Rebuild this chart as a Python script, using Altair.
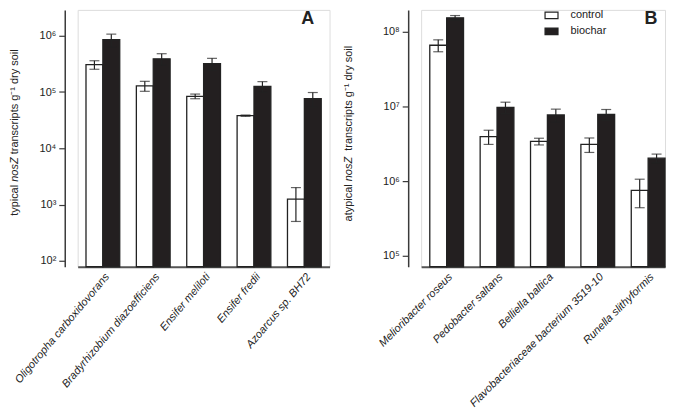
import altair as alt
import pandas as pd

FONT = "Liberation Sans"
BLACK = "#231f20"
AXIS = "#3a3a3a"

# ---- Panel A: typical nosZ ----
species_a = ["Oligotropha carboxidovorans", "Bradyrhizobium diazoefficiens",
             "Ensifer meliloti", "Ensifer fredii", "Azoarcus sp. BH72"]
control_a = [3.07e5, 1.29e5, 8.4e4, 3.8e4, 1.25e3]
control_a_err = [0.53e5, 0.26e5, 0.8e4, 0.1e4, 0.75e3]
biochar_a = [8.5e5, 3.9e5, 3.2e5, 1.26e5, 7.6e4]
biochar_a_err = [2.2e5, 0.9e5, 0.77e5, 0.27e5, 2.2e4]
ticks_a = [1e2, 1e3, 1e4, 1e5, 1e6]
title_a = ["typical", "nosZ", "transcripts g\u207b\u00b9 dry soil"]

# ---- Panel B: atypical nosZ ----
species_b = ["Melioribacter roseus", "Pedobacter saltans", "Belliella baltica",
             "Flavobacteriaceae bacterium 3519-10", "Runella slithyformis"]
control_b = [6.6e7, 3.95e6, 3.4e6, 3.1e6, 7.5e5]
control_b_err = [1.2e7, 0.85e6, 0.35e6, 0.68e6, 3.1e5]
biochar_b = [1.54e8, 9.7e6, 7.7e6, 7.8e6, 2.03e6]
biochar_b_err = [1.1e7, 1.7e6, 1.5e6, 1.3e6, 0.27e6]
ticks_b = [1e5, 1e6, 1e7, 1e8]
title_b = ["atypical", "nosZ", "transcripts g\u207b\u00b9 dry soil"]

treatments = ["control", "biochar"]

SUP = "['\u2070','\u00b9','\u00b2','\u00b3','\u2074','\u2075','\u2076','\u2077','\u2078','\u2079']"
LABEL_EXPR = "'10' + " + SUP + "[round(log(datum.value)/LN10)]"
RECT = "M-1,-0.5L1,-0.5L1,0.5L-1,0.5Z"


def make_df(species, ctrl, ctrl_err, bio, bio_err, base):
    rows = []
    for i, s in enumerate(species):
        rows.append(dict(species=s, treatment="control", value=ctrl[i],
                         lo=ctrl[i] - ctrl_err[i], hi=ctrl[i] + ctrl_err[i], base=base))
        rows.append(dict(species=s, treatment="biochar", value=bio[i],
                         lo=bio[i] - bio_err[i], hi=bio[i] + bio_err[i], base=base))
    return pd.DataFrame(rows)


def fill_enc():
    return alt.Fill("treatment:N",
                    scale=alt.Scale(domain=treatments, range=["white", BLACK]),
                    legend=None)


def title_marks(parts, x_pos, y_starts):
    marks = []
    for part, y0, style in zip(parts, y_starts, ["normal", "italic", "normal"]):
        marks.append(alt.Chart(pd.DataFrame({"t": [part]})).mark_text(
            font=FONT, fontSize=11, fontStyle=style, color="#222", angle=270,
            align="left", baseline="middle").encode(
            text="t:N", x=alt.value(x_pos), y=alt.value(y0)))
    return marks


def panel(species, ctrl, ctrl_err, bio, bio_err, domain, ticks, title_parts, title_x,
          title_y, letter, width, pad_outer, align, label_angle, with_legend):
    df = make_df(species, ctrl, ctrl_err, bio, bio_err, domain[0])
    x = alt.X("species:N", sort=species,
              scale=alt.Scale(paddingInner=0.33, paddingOuter=pad_outer, align=align),
              axis=alt.Axis(title=None, labelAngle=label_angle, ticks=False,
                            labelFontStyle="italic", labelFont=FONT, labelFontSize=11,
                            labelPadding=4, labelColor="#222", domainColor="#555",
                            domainWidth=2, labelLimit=400,
                            labelAlign="right", labelBaseline="top"))
    xo = alt.XOffset("treatment:N", sort=treatments,
                     scale=alt.Scale(domain=treatments, paddingInner=0, paddingOuter=0))
    y_scale = alt.Scale(type="log", domain=domain, nice=False, clamp=True)
    y_axis = alt.Axis(values=ticks, labelExpr=LABEL_EXPR, title=None, offset=13,
                      tickSize=6, tickWidth=1.2, tickColor=AXIS, domainColor=AXIS,
                      domainWidth=1.5, labelFont=FONT, labelFontSize=11, labelColor="#222",
                      grid=False, labelPadding=3)
    base = alt.Chart(df)
    bars = base.mark_bar(stroke="#222", strokeWidth=1.3).encode(
        x=x, xOffset=xo,
        y=alt.Y("value:Q", scale=y_scale, axis=y_axis),
        y2="base:Q", fill=fill_enc())
    rule = base.mark_rule(color="#222", strokeWidth=1.2).encode(
        x=x, xOffset=xo, y="lo:Q", y2="hi:Q")
    cap_hi = base.mark_tick(color="#222", thickness=1.2, size=10).encode(
        x=x, xOffset=xo, y="hi:Q")
    cap_lo = base.mark_tick(color="#222", thickness=1.2, size=10).encode(
        x=x, xOffset=xo, y="lo:Q")
    lab = alt.Chart(pd.DataFrame({"t": [letter]})).mark_text(
        font=FONT, fontSize=18, fontWeight="bold", color="#222", align="center",
        baseline="top").encode(text="t:N", x=alt.value(231), y=alt.value(0))
    main = alt.layer(bars, rule, cap_hi, cap_lo, lab,
                     *title_marks(title_parts, title_x, title_y))
    if with_legend:
        leg_df = pd.DataFrame({"treatment": treatments})
        ly = alt.Y("treatment:N", sort=treatments, axis=None,
                   scale=alt.Scale(range=[5.5, 21.5], padding=0))
        sym = alt.Chart(leg_df).mark_point(
            shape=RECT, size=169, filled=True, stroke="#222", strokeWidth=1.2,
            opacity=1).encode(x=alt.value(131), y=ly, fill=fill_enc())
        txt = alt.Chart(leg_df).mark_text(
            font=FONT, fontSize=11, color="#222", align="left", baseline="middle").encode(
            x=alt.value(150), y=ly, text="treatment:N")
        main = alt.layer(main, alt.layer(sym, txt)).resolve_scale(y="independent")
    return main.properties(width=width, height=258)


pa = panel(species_a, control_a, control_a_err, biochar_a, biochar_a_err,
           [10 ** 1.894, 10 ** 6.46], ticks_a, title_a, -63, [206.9, 172.6, 145.0],
           "A", 253, 0.165, 0.5, 310, False)
pb = panel(species_b, control_b, control_b_err, biochar_b, biochar_b_err,
           [10 ** 4.853, 10 ** 8.293], ticks_b, title_b, -72, [212.5, 172.1, 141.5],
           "B", 245, 0.086, 1.0, 315, True)

chart = alt.hconcat(pa, pb, spacing=92, bounds="flush").properties(
    padding=0).configure_view(stroke=None).configure(background="white")

chart.save("out.html", embed_options={"renderer": "svg", "actions": False})
